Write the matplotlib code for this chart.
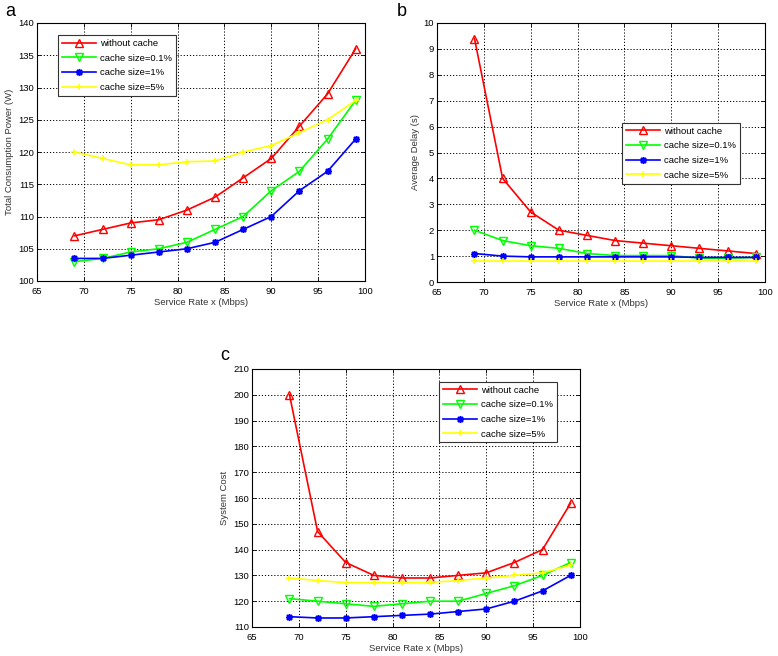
import numpy as np
import matplotlib
matplotlib.use("Agg")
import matplotlib.pyplot as plt

plt.rcParams['font.family'] = ['Liberation Sans', 'DejaVu Sans']

#### data
rate = [69, 72, 75, 78, 81, 84, 87, 90, 93, 96, 99]
labels = ['without cache', 'cache size=0.1%', 'cache size=1%', 'cache size=5%']

power_none = [107, 108, 109, 109.5, 111, 113, 116, 119, 124, 129, 136]
power_01 = [103, 103.5, 104.5, 105, 106, 108, 110, 114, 117, 122, 128]
power_1 = [103.5, 103.5, 104, 104.5, 105, 106, 108, 110, 114, 117, 122]
power_5 = [120, 119, 118, 118, 118.5, 118.6, 120, 121, 123, 125, 128]

delay_none = [9.4, 4.0, 2.7, 2.0, 1.8, 1.6, 1.5, 1.4, 1.3, 1.2, 1.1]
delay_01 = [2.0, 1.6, 1.4, 1.3, 1.1, 1.02, 1.02, 1.02, 0.92, 0.92, 0.95]
delay_1 = [1.1, 1.0, 0.97, 0.97, 0.97, 0.97, 0.97, 0.97, 0.95, 0.95, 0.95]
delay_5 = [0.82, 0.82, 0.82, 0.82, 0.82, 0.82, 0.82, 0.82, 0.82, 0.82, 0.82]

cost_none = [200, 147, 135, 130, 129, 129, 130, 131, 135, 140, 158]
cost_01 = [121, 120, 119, 118, 119, 120, 120, 123, 126, 130, 135]
cost_1 = [114, 113.5, 113.5, 114, 114.5, 115, 116, 117, 120, 124, 130]
cost_5 = [129, 128, 127.2, 127.2, 127.2, 127.3, 128, 129, 130, 131, 134]

colors = ['#ff0000', '#00ff00', '#0000ff', '#ffff00']
markers = ['^', 'v', (8, 2, 0), '+']

W, H = 778, 656
fig = plt.figure(figsize=(W / 100, H / 100), dpi=100)
FS = 6.8


def make_ax(x0, y0, x1, y1):
    return fig.add_axes([x0 / W, 1 - y1 / H, (x1 - x0) / W, (y1 - y0) / H])


def draw(ax, series, ylim, yticks, ylabel, legend_loc):
    for ys, c, m, lab in zip(series, colors, markers, labels):
        if m in ('^', 'v'):
            ax.plot(rate, ys, color=c, marker=m, markersize=5.5, mfc='none',
                    mec=c, mew=1.0, lw=1.2, label=lab)
        else:
            ax.plot(rate, ys, color=c, marker=m, markersize=5, mec=c,
                    mew=1.1, lw=1.2, label=lab)
    ax.set_xlim(65, 100)
    ax.set_ylim(*ylim)
    ax.set_xticks(np.arange(65, 101, 5))
    ax.set_yticks(yticks)
    ax.grid(True, color='black', linestyle=(0, (1.2, 2.0)), linewidth=0.7)
    ax.tick_params(direction='in', top=True, right=True, labelsize=FS,
                   length=3, width=0.6, pad=2)
    ax.tick_params(axis='x', pad=4)
    for s in ax.spines.values():
        s.set_linewidth(0.8)
    ax.set_xlabel('Service Rate x (Mbps)', fontsize=FS, labelpad=2,
                  color='#333333')
    ax.set_ylabel(ylabel, fontsize=FS, labelpad=3, color='#333333')
    leg = ax.legend(loc='upper left', bbox_to_anchor=legend_loc, fontsize=FS,
                    fancybox=False, edgecolor='#333333', framealpha=1,
                    numpoints=1, handlelength=3.6, borderpad=0.4,
                    labelspacing=0.6, handletextpad=0.5, borderaxespad=0)
    leg.get_frame().set_linewidth(0.8)


ax_a = make_ax(37, 23, 365, 281)
draw(ax_a, [power_none, power_01, power_1, power_5], (100, 140),
     np.arange(100, 141, 5), 'Total Consumption Power (W)', (0.064, 0.953))

ax_b = make_ax(437, 23, 765, 282)
draw(ax_b, [delay_none, delay_01, delay_1, delay_5], (0, 10),
     np.arange(0, 11, 1), 'Average Delay (s)', (0.564, 0.614))

ax_c = make_ax(252, 369, 580, 627)
draw(ax_c, [cost_none, cost_01, cost_1, cost_5], (110, 210),
     np.arange(110, 211, 10), 'System Cost', (0.57, 0.95))

fig.text(5 / W, 1 - 12 / H, 'a', fontsize=13, va='center', ha='left')
fig.text(397 / W, 1 - 12 / H, 'b', fontsize=13, va='center', ha='left')
fig.text(220 / W, 1 - 355 / H, 'c', fontsize=13, va='center', ha='left')

fig.savefig('out.png', dpi=100)
